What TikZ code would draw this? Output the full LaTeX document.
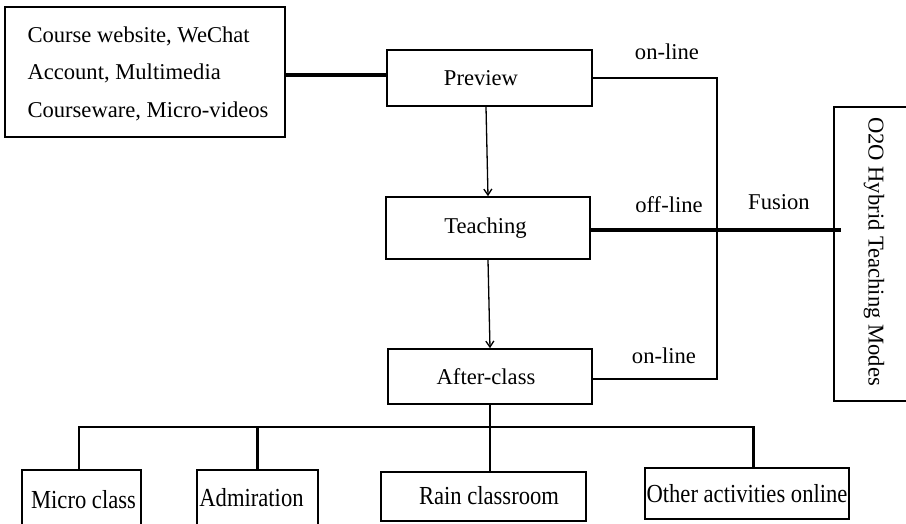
\documentclass[tikz,border=0pt]{standalone}
\usepackage{fontspec}
\setmainfont{Liberation Serif}
\usetikzlibrary{arrows.meta}
\begin{document}
\begin{tikzpicture}[x=1pt,y=-1pt,
  every node/.style={font=\fontsize{22.6}{37.5}\selectfont},
  box/.style={draw,line width=1.6pt,inner sep=0pt,align=center},
  tag/.style={anchor=base,inner sep=0pt},
  thin/.style={line width=1.4pt},
  heavy/.style={line width=4.2pt},
  tree/.style={line width=2.3pt},
  arr/.style={line width=1.3pt,-{Straight Barb[length=6pt,width=8pt]}},
  low/.style={box}]
\useasboundingbox (0,0) rectangle (906,523);
\clip (0,0) rectangle (906,523);
% boxes
\node[box,minimum width=280pt,minimum height=130pt] (src) at (145,72)
  {\hspace*{6pt}\raisebox{-4pt}{\begin{tabular}{@{}l@{}}Course website, WeChat\\Account, Multimedia\\Courseware, Micro-videos\end{tabular}}};
\node[box,minimum width=205pt,minimum height=56pt] (prev) at (489.5,78) {\hspace*{-17pt}Preview};
\node[box,minimum width=204pt,minimum height=62pt] (teach) at (488,228) {\hspace*{-5pt}Teaching};
\node[box,minimum width=204pt,minimum height=55pt] (after) at (490,376.5) {\hspace*{-8pt}After-class};
\node[box,minimum width=78pt,minimum height=294pt] (o2o) at (873,254) {};
\node[rotate=-90,inner sep=0pt] (o2otext) at (874,251.5) {O2O Hybrid Teaching Modes};
\node[low,minimum width=119pt,minimum height=60pt] (micro) at (81.5,500)
  {\hspace*{4pt}\raisebox{-4pt}{\scalebox{1}[1.15]{Micro class}}};
\node[low,minimum width=121pt,minimum height=60pt] (admir) at (257.5,500)
  {\hspace*{-12pt}\raisebox{5pt}{\scalebox{1}[1.15]{Admiration}}};
\node[low,minimum width=205pt,minimum height=49pt] (rain) at (483.5,496.5)
  {\hspace*{11pt}\raisebox{3pt}{\scalebox{1}[1.15]{Rain classroom}}};
\node[low,minimum width=204pt,minimum height=51pt] (other) at (747,493.5)
  {\scalebox{1}[1.15]{Other activities online}};
% labels
\node[tag] (on1) at (667,59) {on-line};
\node[tag] (off) at (669,212) {off-line};
\node[tag] (fus) at (779,209) {Fusion};
\node[tag] (on2) at (664,363) {on-line};
% connectors
\draw[heavy] ([yshift=-3pt]src.east) -- ([yshift=-3pt]src.east -| prev.west);
\coordinate (bus) at (717,230);
\draw[thin] (prev.east) -| (bus) |- ([yshift=-2.5pt]after.east);
\draw[heavy] ([yshift=-2pt]teach.east) -- ([xshift=8pt,yshift=-2pt]teach.east -| o2o.west);
\draw[arr] ([xshift=-3.5pt]prev.south) -- ([xshift=0pt]teach.north);
\draw[arr] (teach.south) -- (after.north);
\coordinate (junc) at ([yshift=-22pt]after.south);
\draw[tree] (after.south) -- (junc);
\draw[tree] ([xshift=-2.5pt]micro.north) |- (junc);
\draw[tree] (admir.north) -- (admir.north |- junc);
\draw[tree] (junc) -- (junc |- rain.north);
\draw[tree] ([xshift=6.5pt]other.north) |- (junc);
\end{tikzpicture}
\end{document}
